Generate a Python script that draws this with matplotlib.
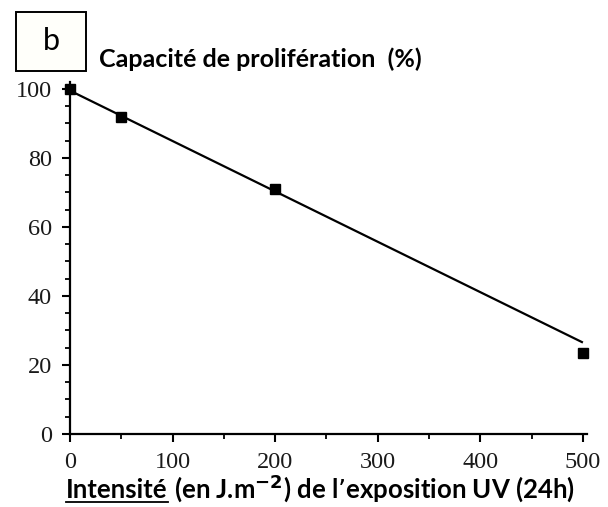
import matplotlib.pyplot as plt
from matplotlib.patches import Rectangle
from matplotlib.lines import Line2D
from matplotlib.ticker import MultipleLocator

# data
uv_dose = [0, 50, 200, 500]
proliferation = [100, 92, 71, 23.5]
fit_x = [0, 500]
fit_y = [99.5, 26.5]

x_ticks = [0, 100, 200, 300, 400, 500]
y_ticks = [0, 20, 40, 60, 80, 100]

fig = plt.figure(figsize=(6.08, 5.07), dpi=100)
ax = fig.add_axes([70 / 608, 73 / 507, 517 / 608, 352 / 507])

ax.plot(fit_x, fit_y, color='black', lw=1.6, solid_capstyle='butt', zorder=3)
ax.plot(uv_dose, proliferation, ls='none', marker='s', ms=7, color='black',
        clip_on=False, zorder=4)

ax.set_xlim(0, 504)
ax.set_ylim(0, 102)
ax.set_xticks(x_ticks)
ax.set_yticks(y_ticks)
ax.xaxis.set_minor_locator(MultipleLocator(50))
ax.yaxis.set_minor_locator(MultipleLocator(5))

for side in ['top', 'right']:
    ax.spines[side].set_visible(False)
for side in ['left', 'bottom']:
    ax.spines[side].set_linewidth(1.6)

ax.tick_params(which='major', direction='out', length=6, width=1.5,
               labelsize=17.5)
ax.tick_params(which='minor', direction='out', length=3.5, width=1.3)
ax.tick_params(axis='x', which='major', pad=7)
ax.tick_params(axis='y', which='major', pad=7)
for lbl in ax.get_xticklabels() + ax.get_yticklabels():
    lbl.set_family('Liberation Serif')
    lbl.set_color('#1a1a1a')

# panel letter box
fig.patches.append(Rectangle((16 / 608, 1 - 71 / 507), 70 / 608, 59 / 507,
                             transform=fig.transFigure, facecolor='#fffffa',
                             edgecolor='black', lw=1.4))
fig.text(51 / 608, 1 - 41 / 507, 'b', ha='center', va='center',
         fontsize=22, family='Lato')

fig.text(99 / 608, 1 - 67 / 507, 'Capacité de prolifération  (%)',
         ha='left', va='baseline', fontsize=18, family='Lato',
         fontweight='bold')

# x label with underlined first word
fig.canvas.draw()
renderer = fig.canvas.get_renderer()
label_kw = dict(va='baseline', fontsize=18.5, family='Lato', fontweight='bold')
y_base = 1 - 498 / 507
t1 = fig.text(66 / 608, y_base, 'Intensité', ha='left', **label_kw)
bb = t1.get_window_extent(renderer)
inv = fig.transFigure.inverted()
x_start = inv.transform((bb.x0, bb.y0))[0]
x_end = inv.transform((bb.x1, bb.y0))[0]
fig.text(x_end, y_base, r' (en J.m$^{\mathbf{-2}}$) de l’exposition UV (24h)',
         ha='left', **label_kw)
fig.lines.append(Line2D([x_start, x_end], [y_base - 4 / 507] * 2,
                        transform=fig.transFigure, color='black', lw=1.3))

fig.savefig('out.png', dpi=100)
